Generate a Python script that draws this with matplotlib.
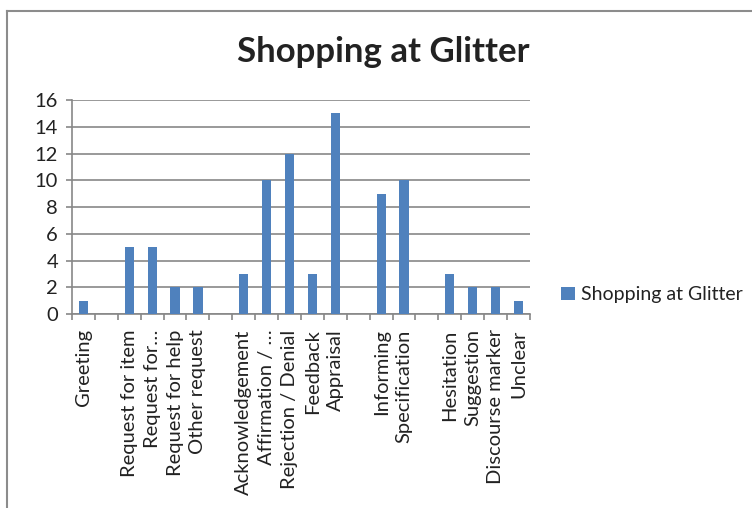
import matplotlib.pyplot as plt
import numpy as np
from matplotlib.lines import Line2D

plt.rcParams['font.family'] = ['Lato', 'DejaVu Sans']

# Speech act categories (blank entries separate the groups)
categories = ['Greeting', '', 'Request for item', 'Request for…', 'Request for help',
              'Other request', '', 'Acknowledgement', 'Affirmation / …', 'Rejection / Denial',
              'Feedback', 'Appraisal', '', 'Informing', 'Specification', '',
              'Hesitation', 'Suggestion', 'Discourse marker', 'Unclear']
counts = [1, 0, 5, 5, 2, 2, 0, 3, 10, 12, 3, 15, 0, 9, 10, 0, 3, 2, 2, 1]
yticks = [0, 2, 4, 6, 8, 10, 12, 14, 16]

series_name = 'Shopping at Glitter'
bar_color = '#4F81BD'
grid_color = '#878787'
text_color = '#222222'

fig = plt.figure(figsize=(7.52, 5.08), dpi=100)
ax = fig.add_axes([0.0957, 0.3819, 0.6091, 0.4212])

x = np.arange(len(categories))
ax.bar(x, counts, width=0.4, color=bar_color, label=series_name, zorder=3)

ax.set_xlim(-0.5, len(categories) - 0.5)
ax.set_ylim(0, 16)
ax.set_yticks(yticks)
ax.yaxis.grid(True, color=grid_color, linewidth=1.2, zorder=0)

# category ticks sit between bars, labels at bar centres
ax.set_xticks(np.arange(len(categories) + 1) - 0.5)
ax.set_xticklabels([])
ax.set_xticks(x, minor=True)
ax.set_xticklabels(categories, minor=True, rotation=90, fontsize=14.5, color=text_color)
ax.tick_params(axis='x', which='minor', length=0, pad=11)
ax.tick_params(axis='x', which='major', length=4, color=grid_color, width=1.2)
ax.tick_params(axis='y', length=4, color=grid_color, width=1.2, labelsize=14.5,
               labelcolor=text_color, pad=6)

for side in ['top', 'right']:
    ax.spines[side].set_visible(False)
for side in ['left', 'bottom']:
    ax.spines[side].set_color(grid_color)
    ax.spines[side].set_linewidth(1.2)

fig.text(0.509, 0.897, series_name, ha='center', va='center', fontsize=25,
         fontweight='bold', color=text_color)

ax.legend(loc='center left', bbox_to_anchor=(1.03, 0.09), frameon=False,
          fontsize=14, handlelength=0.7, handleheight=0.7, handletextpad=0.3,
          labelcolor=text_color)

# chart frame (top and left edges visible)
fig.add_artist(Line2D([0.0093, 1.0], [0.978, 0.978], color='#8c8c8c', linewidth=1.5))
fig.add_artist(Line2D([0.0093, 0.0093], [0.0, 0.978], color='#8c8c8c', linewidth=1.5))

fig.savefig('out.png', dpi=100)
